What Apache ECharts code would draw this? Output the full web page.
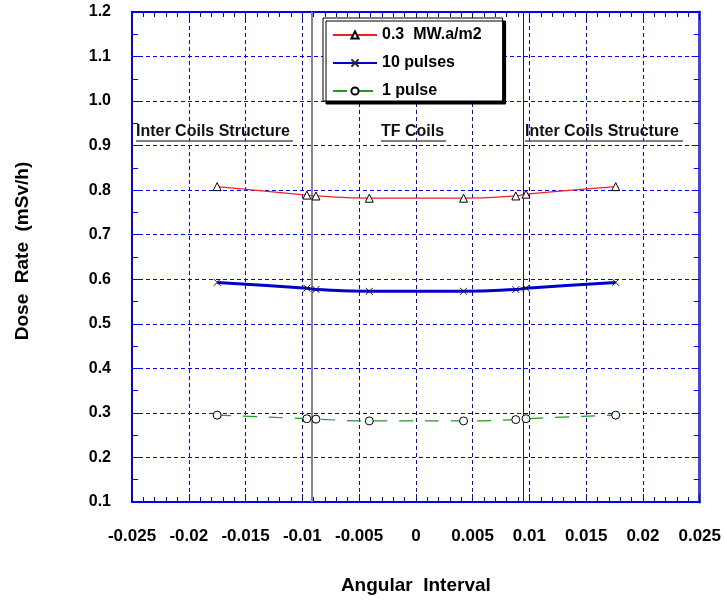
<!DOCTYPE html>
<html>
<head>
<meta charset="utf-8">
<script src="https://cdn.jsdelivr.net/npm/echarts@6/dist/echarts.min.js"></script>
<style>
  html, body { margin: 0; padding: 0; background: #fff; }
  #chart { width: 724px; height: 600px; }
</style>
</head>
<body>
<div id="chart"></div>
<script>
// angular positions of the computed points
var xVals = [-0.0175, -0.0096, -0.0088, -0.0041, 0.0042, 0.0088, 0.0097, 0.0176];
// dose rates (mSv/h)
var fluenceVals = [0.808, 0.789, 0.787, 0.782, 0.782, 0.787, 0.791, 0.808];
var tenPulseVals = [0.593, 0.580, 0.577, 0.573, 0.573, 0.577, 0.580, 0.593];
var onePulseVals = [0.295, 0.287, 0.286, 0.282, 0.282, 0.285, 0.287, 0.295];
var seriesNames = ['0.3  MW.a/m2', '10 pulses', '1 pulse'];
// boundaries between coil regions
var bounds = [-0.0092, 0.0095];

function pairs(ys) {
    var out = [];
    for (var i = 0; i < xVals.length; i++) out.push([xVals[i], ys[i]]);
    return out;
}

var blue = '#0000ff';
var font = 'Liberation Sans';
var chart = echarts.init(document.getElementById('chart'));

var option = {
    animation: false,
    textStyle: { fontFamily: font },
    grid: { left: 132, top: 12, right: 22, bottom: 97 },
    legend: {
        orient: 'vertical',
        left: 323,
        top: 18,
        padding: [9, 21, 2, 9],
        itemWidth: 44,
        itemHeight: 9,
        itemGap: 12,
        backgroundColor: '#fff',
        borderColor: '#000',
        borderWidth: 1,
        shadowColor: '#000',
        shadowBlur: 0.01,
        shadowOffsetX: 3,
        shadowOffsetY: 3,
        textStyle: { fontFamily: font, fontWeight: 'bold', fontSize: 16, color: '#000' },
        data: seriesNames
    },
    xAxis: [{
        type: 'value',
        min: -0.025, max: 0.025, interval: 0.005,
        name: 'Angular  Interval',
        nameLocation: 'middle',
        nameGap: 74,
        nameTextStyle: { fontWeight: 'bold', fontSize: 19, color: '#000' },
        axisLine: { onZero: false, lineStyle: { color: blue, width: 2 } },
        axisTick: { inside: true, length: 8, lineStyle: { color: blue } },
        minorTick: { show: true, splitNumber: 5, length: 5, lineStyle: { color: blue } },
        axisLabel: { margin: 26, fontWeight: 'bold', fontSize: 17, color: '#000' },
        splitLine: { show: true, lineStyle: { color: blue, type: [4, 3], width: 1 } }
    }, {
        type: 'value', position: 'top',
        min: -0.025, max: 0.025, interval: 0.005,
        axisLine: { show: true, onZero: false, lineStyle: { color: blue, width: 2 } },
        axisTick: { show: true, inside: true, length: 8, lineStyle: { color: blue } },
        minorTick: { show: true, splitNumber: 5, length: 5, lineStyle: { color: blue } },
        axisLabel: { show: false },
        splitLine: { show: false }
    }],
    yAxis: [{
        type: 'value',
        min: 0.1, max: 1.2, interval: 0.1,
        name: 'Dose  Rate  (mSv/h)',
        nameLocation: 'middle',
        nameGap: 100,
        nameTextStyle: { fontWeight: 'bold', fontSize: 19, color: '#000', padding: [0, 0, 0, 12] },
        axisLine: { show: true, onZero: false, lineStyle: { color: blue, width: 2 } },
        axisTick: { inside: true, length: 8, lineStyle: { color: blue } },
        minorTick: { show: true, splitNumber: 2, length: 6, lineStyle: { color: blue } },
        axisLabel: {
            margin: 21, fontWeight: 'bold', fontSize: 16, color: '#000',
            formatter: function (v) { return v.toFixed(1); }
        },
        splitLine: { show: true, lineStyle: { color: blue, type: [4, 3], width: 1 } }
    }, {
        type: 'value', position: 'right',
        min: 0.1, max: 1.2, interval: 0.1,
        axisLine: { show: true, onZero: false, lineStyle: { color: '#4444dd', width: 3 } },
        axisTick: { show: true, inside: true, length: 8, lineStyle: { color: blue } },
        minorTick: { show: true, splitNumber: 2, length: 6, lineStyle: { color: blue } },
        axisLabel: { show: false },
        splitLine: { show: false }
    }],
    graphic: [
        { type: 'text', left: 136, top: 124, z: 10, style: { text: 'Inter Coils Structure', font: 'bold 16px "Liberation Sans"', fill: '#111' } },
        { type: 'line', z: 10, shape: { x1: 136, y1: 141, x2: 293, y2: 141 }, style: { stroke: '#555', lineWidth: 1.5 } },
        { type: 'text', left: 381, top: 124, z: 10, style: { text: 'TF Coils', font: 'bold 16px "Liberation Sans"', fill: '#111' } },
        { type: 'line', z: 10, shape: { x1: 381, y1: 141, x2: 446, y2: 141 }, style: { stroke: '#555', lineWidth: 1.5 } },
        { type: 'text', left: 525, top: 124, z: 10, style: { text: 'Inter Coils Structure', font: 'bold 16px "Liberation Sans"', fill: '#111' } },
        { type: 'line', z: 10, shape: { x1: 525, y1: 141, x2: 683, y2: 141 }, style: { stroke: '#555', lineWidth: 1.5 } }
    ],
    series: [{
        name: seriesNames[0],
        type: 'line',
        smooth: true,
        data: pairs(fluenceVals),
        symbol: 'triangle',
        symbolSize: 8,
        lineStyle: { color: '#ee2222', width: 1.2 },
        itemStyle: { color: '#fff', borderColor: '#000', borderWidth: 1 },
        markLine: {
            silent: true, symbol: 'none', precision: 5, label: { show: false },
            data: [
                { xAxis: bounds[0], lineStyle: { color: '#888', width: 2, type: 'solid' } },
                { xAxis: bounds[1], lineStyle: { color: '#222', width: 1, type: 'solid' } }
            ]
        },
        z: 5
    }, {
        name: seriesNames[1],
        type: 'line',
        smooth: true,
        data: pairs(tenPulseVals),
        symbol: 'path://M0,0L10,10M10,0L0,10',
        symbolSize: 7,
        lineStyle: { color: '#0000cc', width: 3 },
        itemStyle: { color: 'none', borderColor: '#222', borderWidth: 1 },
        z: 5
    }, {
        name: seriesNames[2],
        type: 'line',
        smooth: true,
        data: pairs(onePulseVals),
        symbol: 'circle',
        symbolSize: 8,
        lineStyle: { color: '#229922', width: 1.2, type: [14, 12] },
        itemStyle: { color: '#fff', borderColor: '#000', borderWidth: 1 },
        z: 5
    }]
};

chart.setOption(option);
</script>
</body>
</html>
